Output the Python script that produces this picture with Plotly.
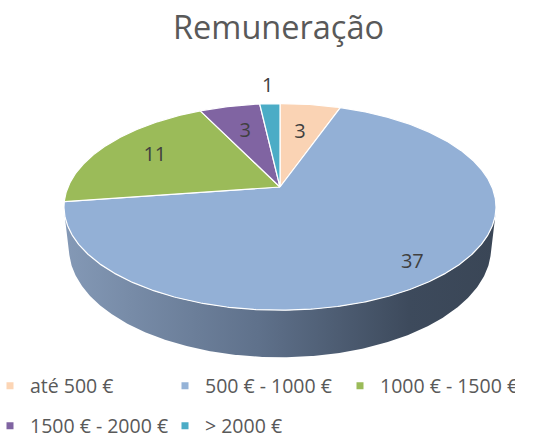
import numpy as np
import plotly.graph_objects as go

# ---------------- data ----------------
categories = ["até 500 €", "500 € - 1000 €", "1000 € - 1500 €", "1500 € - 2000 €", "> 2000 €"]
values = [3, 37, 11, 3, 1]
title_text = "Remuneração"

# ---------------- styles ----------------
top_colors = ["#FAD3B4", "#93B0D6", "#9BBB59", "#8064A2", "#4BACC6"]
legend_colors = ["#FCD5B5", "#95B3D7", "#9BBB59", "#8064A2", "#4BACC6"]
side_scales = [
    [[0, "#C8A890"], [1, "#6E5A4A"]],
    [[0, "#8499B6"], [0.45, "#5F718B"], [0.8, "#3D4A5C"], [1, "#3A4656"]],
    [[0, "#7C9648"], [1, "#46552A"]],
    [[0, "#665082"], [1, "#3A2E4A"]],
    [[0, "#3C8A9E"], [1, "#22505C"]],
]
label_radius = [0.62, 0.86, 0.71, 0.65, 1.25]

W, H = 557, 440
BOTTOM = 70            # bottom margin (legend area)
PH = H - BOTTOM        # plot-area height in px
PHI = np.radians(28)
DIST = 4.59
SCALE = 973
THICK = 0.224
CX, CY = 280, 187


def proj(X, Y, Z=0.0):
    c, s = np.cos(PHI), np.sin(PHI)
    vx = np.asarray(X, float)
    vy = np.asarray(Y, float) + DIST * c
    vz = np.asarray(Z, float) - DIST * s
    depth = vy * c - vz * s
    up = vy * s + vz * c
    return CX + SCALE * vx / depth, CY - SCALE * up / depth


def arc(a0, a1, z=0.0, r=1.0):
    n = max(2, int(abs(a1 - a0) / np.radians(0.5)) + 1)
    t = np.linspace(a0, a1, n)
    return proj(r * np.sin(t), r * np.cos(t), np.full_like(t, z))


total = float(sum(values))
fr = np.array(values) / total
ends = np.cumsum(fr) * 2 * np.pi
starts = ends - fr * 2 * np.pi
mids = (starts + ends) / 2

fig = go.Figure()

# visible side wall (silhouette angles)
ts = np.arccos(-1.0 / (DIST * np.cos(PHI)))
sil0, sil1 = ts, 2 * np.pi - ts
for i in range(len(values)):
    a, b = max(starts[i], sil0), min(ends[i], sil1)
    if a < b:
        tx, ty = arc(a, b, 0.0)
        bx, by = arc(b, a, -THICK)
        fig.add_trace(go.Scatter(
            x=np.concatenate([tx, bx, tx[:1]]), y=np.concatenate([ty, by, ty[:1]]),
            mode="lines", fill="toself", line=dict(width=0, color="rgba(0,0,0,0)"),
            fillgradient=dict(type="horizontal", colorscale=side_scales[i]),
            hoverinfo="skip", showlegend=False))

# top faces
for i in range(len(values)):
    ax, ay = arc(starts[i], ends[i], 0.0)
    ox, oy = proj(0.0, 0.0, 0.0)
    fig.add_trace(go.Scatter(
        x=np.concatenate([[ox], ax, [ox]]), y=np.concatenate([[oy], ay, [oy]]),
        mode="lines", fill="toself", fillcolor=top_colors[i],
        line=dict(width=1.2, color="white"), hoverinfo="skip", showlegend=False))

# data labels
lx, ly = proj(np.array(label_radius) * np.sin(mids), np.array(label_radius) * np.cos(mids), 0.0)
fig.add_trace(go.Scatter(
    x=lx, y=ly, mode="text", text=[str(v) for v in values],
    textfont=dict(family="Open Sans", size=20, color="#404040"),
    hoverinfo="skip", showlegend=False))

# legend entries
for i, cat in enumerate(categories):
    fig.add_trace(go.Scatter(
        x=[None], y=[None], mode="markers", name=cat,
        marker=dict(symbol="square", size=7, color=legend_colors[i]),
        legend="legend" if i < 3 else "legend2"))

leg_common = dict(orientation="h", xanchor="left", yanchor="middle", x=-10 / W,
                  entrywidth=130, entrywidthmode="pixels", bgcolor="rgba(0,0,0,0)",
                  font=dict(family="Open Sans", size=19.5, color="#595959"),
                  itemclick=False, itemdoubleclick=False)

fig.update_layout(
    width=W, height=H,
    margin=dict(l=0, r=0, t=0, b=BOTTOM, autoexpand=False),
    paper_bgcolor="white", plot_bgcolor="white",
    title=dict(text=title_text, x=0.5, xanchor="center", y=1 - 28 / H, yanchor="middle",
               yref="container", font=dict(family="Open Sans", size=32.5, color="#595959")),
    xaxis=dict(range=[0, W], visible=False, fixedrange=True, domain=[0, 1]),
    yaxis=dict(range=[PH, 0], visible=False, fixedrange=True, domain=[0, 1]),
    legend=dict(leg_common, y=(PH - 386) / PH),
    legend2=dict(leg_common, y=(PH - 426) / PH),
    showlegend=True,
)

fig.write_html("out.html", config={"displayModeBar": False},
               post_script="document.body.style.margin='0';")
